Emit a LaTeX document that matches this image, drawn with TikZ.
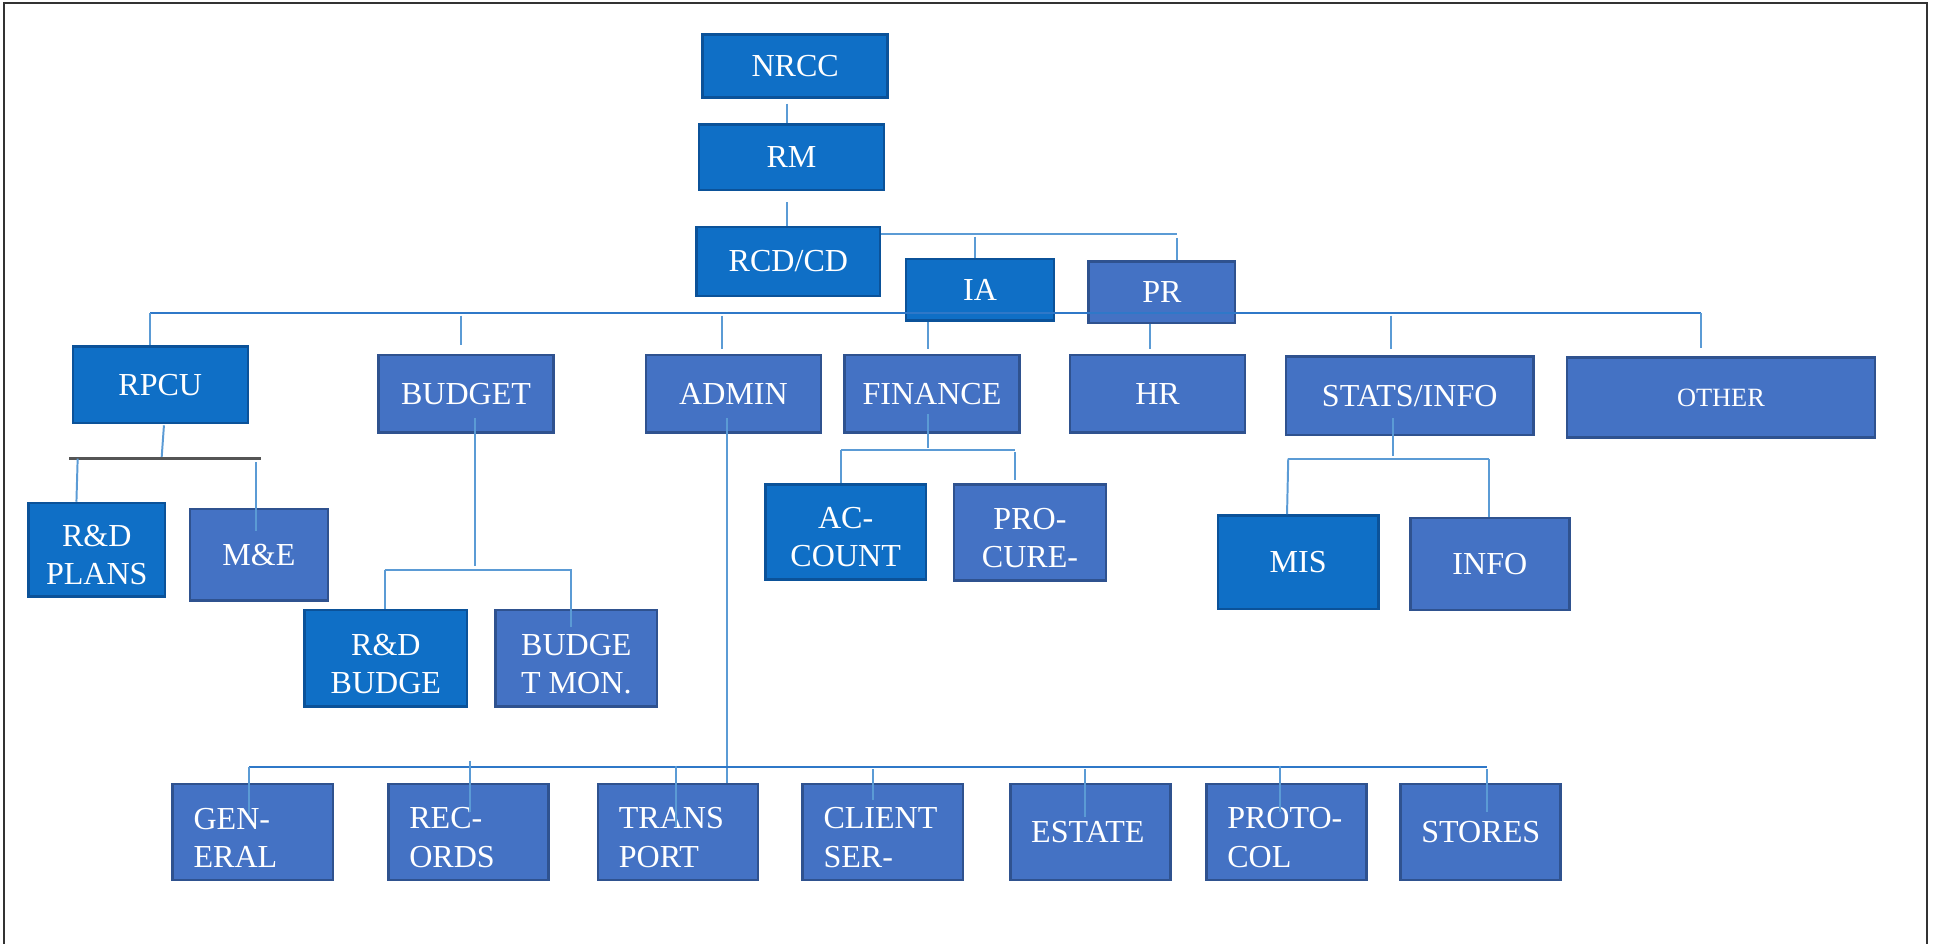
\documentclass[tikz,border=0pt]{standalone}
\usepackage{fontspec}
\setmainfont{Liberation Serif}
\usetikzlibrary{calc}
\definecolor{dkfill}{HTML}{0F6FC6}
\definecolor{dkline}{HTML}{0B5299}
\definecolor{ltfill}{HTML}{4472C4}
\definecolor{ltline}{HTML}{2F528F}
\definecolor{lncol}{HTML}{5B9BD5}
\definecolor{buscol}{HTML}{2F78C8}
\definecolor{barcol}{HTML}{555555}
\definecolor{framecol}{HTML}{333333}
\newcommand{\topstrut}{\rule{0pt}{13pt}}
\tikzset{
  box/.style={draw, line width=1pt, text=white, inner sep=0pt, align=center,
    font=\fontsize{13}{15.5}\selectfont},
  dk/.style={box, fill=dkfill, draw=dkline},
  lt/.style={box, fill=ltfill, draw=ltline},
  sz/.style 2 args={minimum width=#1*0.5pt, minimum height=#2*0.5pt},
  bot/.style={lt, text width=48pt, inner xsep=8.5pt, inner ysep=0pt, align=left, minimum height=39pt},
  ln/.style={draw=lncol, line width=0.8pt},
  bus/.style={draw=buscol, line width=0.9pt},
  bar/.style={draw=barcol, line width=1pt},
  frame/.style={draw=framecol, line width=0.8pt}
}
\begin{document}
\begin{tikzpicture}[x=0.5pt,y=-0.5pt]
\useasboundingbox (0,0) rectangle (1568,765);
\draw[frame] (3.3,766) -- (3.3,2.5) -- (1563,2.5) -- (1563,766);

% nodes
\node[dk, sz={150}{51}] (nrcc) at (645,53.5) {NRCC};
\node[dk, sz={150}{53}] (rm) at (642,127.5) {RM};
\node[dk, sz={149}{56}] (rcd) at (639.5,212) {RCD/CD};
\node[dk, sz={120}{50}] (ia) at (795,235) {IA};
\node[lt, sz={119}{50}] (pr) at (942.5,237) {PR};

\node[dk, sz={142}{62}] (rpcu) at (130,312) {RPCU};
\node[lt, sz={142}{63}] (budget) at (378,319.5) {BUDGET};
\node[lt, sz={142}{63}] (admin) at (595,319.5) {ADMIN};
\node[lt, sz={142}{63}] (finance) at (756,319.5) {FINANCE};
\node[lt, sz={142}{63}] (hr) at (939,319.5) {HR};
\node[lt, sz={201}{64}] (stats) at (1143.5,321) {STATS/INFO};
\node[lt, sz={250}{65}, font=\fontsize{10.7}{13}\selectfont] (other) at (1396,322.5) {OTHER};

\node[dk, sz={111}{76}] (rdplans) at (78.5,446) {\topstrut R\&D\\PLANS};
\node[lt, sz={112}{74}] (me) at (210,450) {M\&E};
\node[dk, sz={132}{78}] (rdbudge) at (313,534) {\topstrut R\&D\\BUDGE};
\node[lt, sz={131}{78}] (budgmon) at (467.5,534) {\topstrut BUDGE\\T MON.};
\node[dk, sz={130}{77}] (account) at (686,431.5) {\topstrut AC-\\COUNT};
\node[lt, sz={123}{78}] (procure) at (835.5,432) {\topstrut PRO-\\CURE-};
\node[dk, sz={130}{76}] (mis) at (1053,456) {MIS};
\node[lt, sz={129}{75}] (info) at (1208.5,457.5) {INFO};

\node[bot] (gen) at (205,675) {\topstrut GEN-\\ERAL};
\node[bot] (rec) at (380,675) {\topstrut REC-\\ORDS};
\node[bot] (trans) at (550,675) {\topstrut TRANS\\PORT};
\node[bot] (client) at (716,675) {\topstrut CLIENT\\SER-};
\node[bot] (estate) at (884.5,675) {ESTATE};
\node[bot] (proto) at (1043.5,675) {\topstrut PROTO-\\COL};
\node[bot] (stores) at (1201,675) {STORES};

% top chain
\draw[ln] ($(nrcc.south)+(-7,4)$) -- ($(rm.north)+(-4,0)$);
\draw[ln] ($(rm.south)+(-4,9)$) -- ($(rcd.north)+(-1.5,0)$);
\coordinate (topbusR) at (955,190);
\draw[ln] (rcd.east |- topbusR) -- (topbusR);
\draw[ln] ($(ia.north)+(-4,-17)$) -- ($(ia.north)+(-4,0)$);
\draw[ln] ($(topbusR)+(0,3)$) -- (pr.north -| topbusR);

% main bus
\coordinate (busL) at (122,254);
\coordinate (busR) at (1380,254);
\draw[bus] (busL) -- (busR);
\draw[ln] (busL) -- ($(rpcu.north)+(-8,0)$);
\draw[ln] ($(budget.north)+(-4,-31)$) -- ($(budget.north)+(-4,-7)$);
\draw[ln] ($(admin.north)+(-9,-31)$) -- ($(admin.north)+(-9,-4)$);
\draw[ln] ($(ia.south)+(-42,0)$) -- ($(finance.north)+(-3,-4)$);
\draw[ln] ($(pr.south)+(-9.5,0)$) -- ($(hr.north)+(-6,-4)$);
\draw[ln] ($(stats.north)+(-15.5,-32)$) -- ($(stats.north)+(-15.5,-5)$);
\draw[ln] (busR) -- ($(other.north)+(-16,-7)$);

% RPCU group
\coordinate (rbarL) at (56,372);
\coordinate (rbarR) at (212,372);
\draw[ln] ($(rpcu.south)+(3,1)$) -- ($(rpcu.south)+(1,29)$);
\draw[bar] (rbarL) -- (rbarR);
\draw[ln] ($(rdplans.north)+(-15.5,-35)$) -- ($(rdplans.north)+(-16.5,0)$);
\draw[ln] ($(me.north)+(-2,-37)$) -- ($(me.north)+(-2,19)$);

% BUDGET group
\coordinate (bbusL) at (312,462);
\coordinate (bbusR) at (464,462);
\draw[ln] ($(budget.south)+(7,-13)$) -- ($(budget.south)+(7,107)$);
\draw[ln] (bbusL) -- (bbusR);
\draw[ln] (bbusL) -- ($(rdbudge.north)+(-1,0)$);
\draw[ln] ($(bbusR)+(-1,0)$) -- ($(budgmon.north)+(-4.5,15)$);

% FINANCE group
\coordinate (fbusL) at (682,365);
\coordinate (fbusR) at (823,365);
\draw[ln] ($(finance.south)+(-3,-16)$) -- ($(finance.south)+(-3,11)$);
\draw[ln] (fbusL) -- (fbusR);
\draw[ln] (fbusL) -- ($(account.north)+(-4,0)$);
\draw[ln] ($(procure.north)+(-12.5,-25)$) -- ($(procure.north)+(-12.5,-3)$);

% STATS group
\coordinate (sbusL) at (1045,372);
\coordinate (sbusR) at (1208,372);
\draw[ln] ($(stats.south)+(-13.5,-15)$) -- ($(stats.south)+(-13.5,16)$);
\draw[ln] (sbusL) -- (sbusR);
\draw[ln] (sbusL) -- ($(mis.north)+(-9,0)$);
\draw[ln] (sbusR) -- ($(info.north)+(-0.5,0)$);

% ADMIN group
\coordinate (abusL) at (202,622);
\coordinate (abusR) at (1206,622);
\draw[ln] ($(admin.south)+(-5,-13)$) -- ($(trans.north)+(40,0)$);
\draw[bus] (abusL) -- (abusR);
\draw[ln] (abusL) -- ($(gen.north)+(-3,26)$);
\draw[ln] ($(rec.north)+(1,-18)$) -- ($(rec.north)+(1,24)$);
\draw[ln] ($(trans.north)+(-2,-14)$) -- ($(trans.north)+(-2,36)$);
\draw[ln] ($(client.north)+(-8,-11)$) -- ($(client.north)+(-8,14)$);
\draw[ln] ($(estate.north)+(-4.5,-11)$) -- ($(estate.north)+(-4.5,28)$);
\draw[ln] ($(proto.north)+(-5.5,-14)$) -- ($(proto.north)+(-5.5,24)$);
\draw[ln] ($(stores.north)+(5,-11)$) -- ($(stores.north)+(5,24)$);
\end{tikzpicture}
\end{document}
